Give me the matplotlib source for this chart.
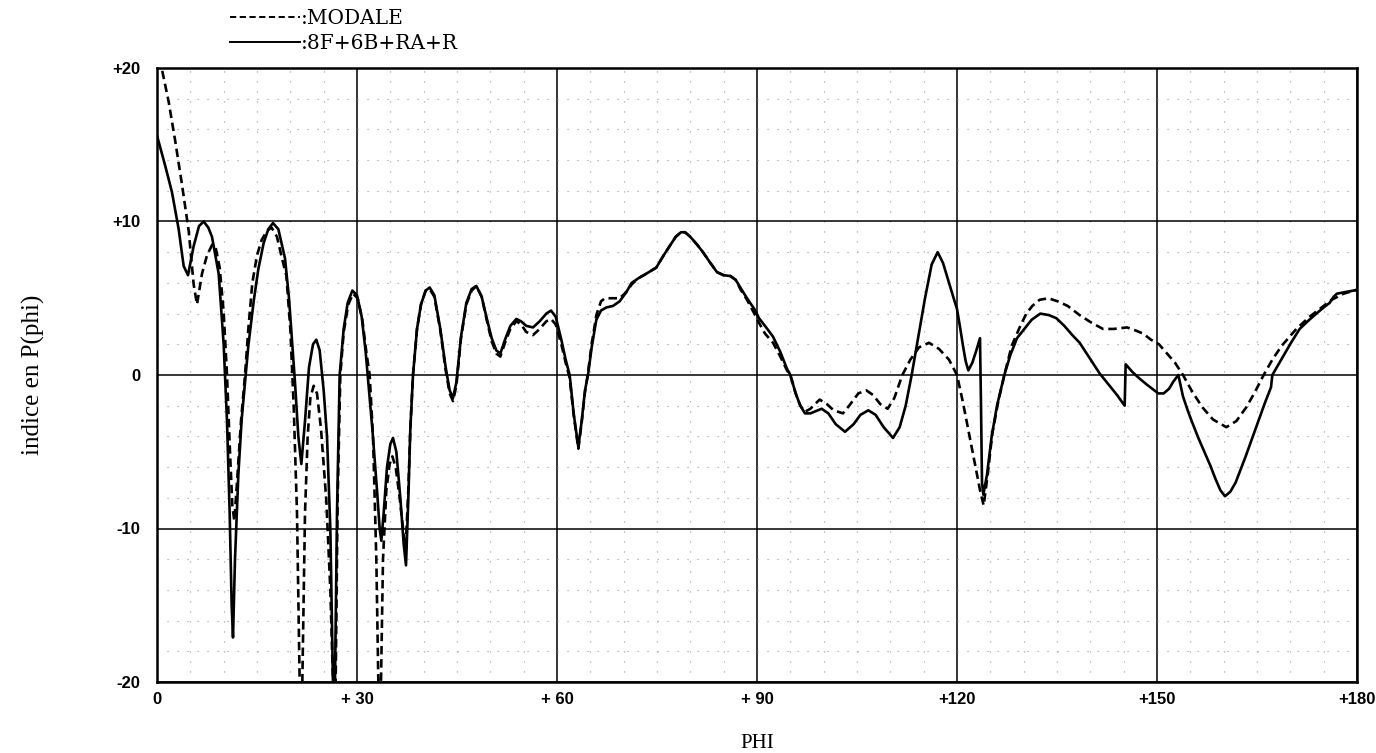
import matplotlib
matplotlib.use("Agg")
import matplotlib.pyplot as plt
from matplotlib.ticker import MultipleLocator, FixedLocator

# ---------------- data ----------------
x_ticks = [0, 30, 60, 90, 120, 150, 180]
x_ticklabels = ["0", "+ 30", "+ 60", "+ 90", "+120", "+150", "+180"]
y_ticks = [-20, -10, 0, 10, 20]
y_ticklabels = ["-20", "-10", "0", "+10", "+20"]

series_labels = [":MODALE", ":8F+6B+RA+R"]

# dashed curve : MODALE
modale_phi = [0, 0.7, 1.75, 2.75, 3.75, 4.75, 5.5, 6.0, 6.75, 7.5, 8.3, 8.8, 9.4, 10.0, 10.5,
              10.9, 11.3, 11.6, 12.0, 12.6, 13.2, 13.7, 14.3, 15.0, 15.7, 16.5, 17.2, 18.0,
              18.8, 19.4, 20.0, 20.5, 21.0, 21.4, 21.6, 21.8, 22.2, 22.6, 23.0, 23.5, 24.0,
              24.6, 25.4, 26.0, 26.4, 26.6, 26.8, 27.1, 27.5, 28.0, 28.7, 29.4, 30.1, 30.8,
              31.4, 31.9, 32.4, 32.9, 33.2, 33.4, 33.6, 33.9, 34.4, 34.9, 35.3, 35.8, 36.4,
              36.9, 37.3, 37.7, 38.0, 38.4, 39.0, 39.6, 40.3, 40.9, 41.6, 42.5, 43.3, 43.9,
              44.4, 44.9, 45.6, 46.4, 47.2, 47.9, 48.7, 49.4, 50.2, 50.9, 51.5, 52.2, 53.0,
              53.9, 54.6, 55.4, 56.4, 57.4, 58.4, 59.1, 59.8, 60.65, 61.3, 61.9, 62.5, 63.2,
              63.7, 64.2, 64.6, 65.2, 65.9, 66.6, 67.2, 68.4, 69.4, 70.4, 71.2, 72.2, 73.4,
              74.9, 76.0, 76.9, 77.8, 78.6, 79.2, 80.0, 81.0, 81.9, 83.0, 84.0, 85.0, 86.0,
              86.8, 87.5, 88.5, 89.6, 90.3, 91.2, 92.4, 93.5, 94.5, 95.0, 95.8, 96.5, 97.2,
              98.0, 99.4, 100.5, 101.5, 102.9, 104.0, 105.2, 106.4, 107.4, 108.5, 109.6,
              110.6, 111.8, 113.0, 114.3, 115.8, 117.3, 118.8, 120.0, 120.9, 121.8, 122.8,
              123.5, 124.0, 124.6, 125.3, 126.2, 127.1, 128.2, 129.5, 130.4, 131.3, 132.4,
              133.7, 135.1, 136.6, 138.4, 140.2, 141.9, 143.5, 145.5, 146.8, 147.9, 149.1,
              150.3, 151.5, 152.7, 153.9, 155.3, 156.8, 158.4, 160.4, 161.9, 163.4, 164.7,
              166.0, 167.3, 168.7, 170.9, 172.9, 175.0, 176.2, 178.0, 180.0]
modale_val = [21.5, 20.0, 17.8, 15.2, 12.4, 9.4, 5.9, 4.6, 6.6, 7.8, 8.5, 8.3, 7.0, 4.1, 0.0,
              -4.5, -8.5, -9.5, -7.0, -3.0, 0.0, 3.0, 6.0, 7.8, 8.8, 9.4, 9.6, 9.0,
              7.5, 6.5, 3.0, -2.0, -9.0, -20.0, -23.0, -20.0, -9.0, -4.0, -1.5, -0.7, -1.2,
              -3.5, -8.2, -14.0, -20.0, -24.0, -20.0, -8.0, 0.0, 2.8, 4.6, 5.3, 5.0, 3.6,
              1.5, 0.0, -4.0, -12.0, -20.0, -24.0, -20.0, -12.0, -7.5, -5.8, -5.3, -6.0, -8.0,
              -10.0, -11.2, -7.5, -3.5, 0.0, 3.0, 4.6, 5.5, 5.6, 5.1, 2.9, 0.3, -1.2,
              -1.7, -0.7, 2.4, 4.6, 5.5, 5.8, 5.1, 3.7, 2.2, 1.4, 1.2, 2.1, 3.0,
              3.5, 3.3, 2.8, 2.6, 3.0, 3.5, 3.65, 3.3, 2.0, 0.8, -0.2, -2.6, -4.8,
              -3.1, -1.1, 0.0, 2.0, 3.9, 4.8, 5.0, 5.0, 5.0, 5.4, 5.9, 6.3, 6.6,
              7.0, 7.8, 8.4, 9.0, 9.3, 9.3, 9.0, 8.5, 8.0, 7.3, 6.7, 6.5, 6.45,
              6.2, 5.6, 4.9, 4.0, 3.4, 2.7, 2.1, 1.2, 0.3, 0.0, -1.2, -2.0, -2.4,
              -2.2, -1.6, -1.9, -2.3, -2.5, -1.9, -1.2, -1.0, -1.3, -1.9, -2.2,
              -1.5, 0.0, 1.0, 1.8, 2.1, 1.7, 1.0, 0.0, -1.8, -3.8, -6.0,
              -7.6, -8.5, -6.5, -3.8, -1.7, 0.0, 1.9, 3.2, 4.0, 4.5, 4.9,
              5.0, 4.8, 4.5, 3.9, 3.4, 3.0, 3.0, 3.1, 2.9, 2.7, 2.3,
              2.0, 1.4, 0.8, 0.0, -1.1, -2.1, -2.9, -3.4, -3.0, -2.1, -1.1,
              0.0, 1.0, 1.9, 3.0, 3.8, 4.5, 4.9, 5.3, 5.55]

# solid curve : 8F+6B+RA+R
full_phi = [0, 1.25, 2.25, 3.25, 4.0, 4.65, 5.5, 6.3, 7.0, 7.7, 8.25, 9.25, 10.0, 10.5, 10.9,
            11.2, 11.4, 11.7, 12.2, 12.7, 13.7, 14.5, 15.2, 16.0, 16.7, 17.4, 18.2, 19.2,
            19.8, 20.3, 20.7, 21.2, 21.65, 22.2, 22.8, 23.4, 23.9, 24.4, 25.0, 25.5, 26.0,
            26.4, 26.55, 26.7, 27.0, 27.4, 28.0, 28.6, 29.3, 30.0, 30.7, 31.3, 31.6, 32.3,
            33.0, 33.4, 33.65, 34.0, 34.5, 35.0, 35.4, 35.9, 36.5, 37.0, 37.35, 37.7, 38.0,
            38.4, 39.0, 39.6, 40.3, 40.9, 41.6, 42.5, 43.3, 43.9, 44.4, 44.9, 45.6, 46.4,
            47.2, 47.9, 48.7, 49.4, 50.2, 50.9, 51.5, 52.2, 53.0, 53.9, 54.6, 55.4, 56.4,
            57.4, 58.4, 59.1, 59.8, 60.65, 61.3, 61.9, 62.5, 63.2, 63.7, 64.2, 64.65, 65.2,
            65.9, 66.6, 67.4, 68.4, 69.4, 70.4, 71.2, 72.2, 73.4, 74.9, 76.0, 76.9, 77.8,
            78.6, 79.2, 80.0, 81.0, 81.9, 83.0, 84.0, 85.0, 86.0, 86.8, 87.5, 88.5, 89.6,
            90.3, 91.2, 92.4, 93.5, 94.5, 95.0, 95.8, 96.5, 97.2, 98.0, 99.7, 100.7, 101.8,
            103.2, 104.5, 105.5, 106.7, 107.8, 109.0, 110.4, 111.4, 112.3, 113.2, 114.2,
            115.2, 116.2, 117.1, 117.9, 118.8, 119.5, 120.0, 120.5, 120.9, 121.3, 121.7,
            122.3, 122.9, 123.45, 123.6, 123.75, 123.95, 124.5, 125.2, 126.0, 127.1, 128.0,
            129.0, 130.1, 131.2, 132.5, 133.8, 134.9, 136.1, 137.3, 138.4, 139.9, 141.4,
            142.7, 144.0, 145.15, 145.3, 146.3, 147.3, 148.4, 149.3, 150.2, 151.0, 151.8,
            152.5, 153.2, 153.9, 154.6, 155.2, 156.2, 157.2, 158.0, 158.8, 159.5, 160.2,
            161.0, 161.8, 162.5, 163.3, 164.3, 165.3, 166.2, 167.1, 167.3, 168.1, 168.9,
            170.1, 171.4, 172.6, 173.9, 175.0, 175.9, 176.5, 177.0, 178.2, 179.5, 180.0]
full_val = [15.6, 13.6, 11.9, 9.5, 7.1, 6.5, 8.4, 9.7, 10.0, 9.6, 9.0, 6.6, 2.0, -3.0, -9.0,
            -15.0, -17.1, -12.0, -6.5, -2.9, 1.9, 4.8, 6.9, 8.6, 9.5, 9.9, 9.5, 7.6,
            5.0, 2.0, -0.5, -4.0, -5.8, -3.0, 0.5, 2.0, 2.3, 1.6, -1.0, -4.0, -10.0,
            -20.0, -24.0, -20.0, -9.0, 0.0, 3.0, 4.7, 5.5, 5.2, 3.8, 1.5, 0.0, -3.5,
            -7.5, -10.0, -10.8, -9.0, -6.0, -4.5, -4.1, -5.0, -8.0, -11.0, -12.4, -8.0, -3.5,
            0.0, 3.0, 4.6, 5.5, 5.7, 5.2, 3.0, 0.5, -1.0, -1.5, -0.5, 2.5, 4.7,
            5.6, 5.8, 5.1, 3.8, 2.4, 1.6, 1.4, 2.3, 3.2, 3.65, 3.5, 3.2, 3.1,
            3.5, 4.0, 4.2, 3.8, 2.3, 1.0, 0.0, -2.5, -4.7, -3.0, -1.0, 0.0, 1.8,
            3.6, 4.2, 4.4, 4.5, 4.8, 5.4, 6.0, 6.3, 6.6, 7.0, 7.8, 8.4, 9.0,
            9.3, 9.3, 9.0, 8.5, 8.0, 7.3, 6.7, 6.5, 6.45, 6.2, 5.7, 5.0, 4.3,
            3.7, 3.2, 2.5, 1.5, 0.4, 0.0, -1.2, -2.0, -2.5, -2.5, -2.2, -2.5, -3.2,
            -3.7, -3.2, -2.6, -2.3, -2.6, -3.4, -4.1, -3.4, -2.0, 0.0, 2.5,
            5.0, 7.2, 8.0, 7.3, 6.0, 5.0, 4.3, 3.0, 1.9, 0.9, 0.3,
            0.8, 1.6, 2.4, -2.0, -7.0, -7.8, -6.5, -4.0, -2.0, 0.0, 1.3,
            2.4, 3.0, 3.6, 4.0, 3.9, 3.7, 3.2, 2.6, 2.1, 1.1, 0.1,
            -0.6, -1.3, -2.0, 0.7, 0.2, -0.2, -0.6, -0.9, -1.2, -1.2, -0.9,
            -0.4, 0.0, -1.4, -2.3, -3.0, -4.1, -5.1, -5.9, -6.8, -7.5, -7.9,
            -7.6, -7.0, -6.2, -5.3, -4.1, -2.9, -1.8, -0.8, 0.0, 0.6, 1.2,
            2.1, 3.0, 3.5, 4.0, 4.4, 4.7, 5.1, 5.3, 5.4, 5.5, 5.55]

# ---------------- figure ----------------
W, H, DPI = 1376, 753, 100
fig = plt.figure(figsize=(W / DPI, H / DPI), dpi=DPI, facecolor="white")
ax = fig.add_axes([157 / W, 1 - 682 / H, 1200 / W, 614 / H])

ax.set_xlim(0, 180)
ax.set_ylim(-20, 20)

# grids
ax.xaxis.set_major_locator(FixedLocator(x_ticks))
ax.yaxis.set_major_locator(FixedLocator(y_ticks))
ax.xaxis.set_minor_locator(MultipleLocator(5))
ax.yaxis.set_minor_locator(MultipleLocator(2))
ax.grid(which="major", color="black", linewidth=1.1, linestyle="-")
ax.grid(which="minor", color="0.6", linewidth=0.8, linestyle=(0, (1, 8)))
ax.set_axisbelow(True)

l_mod, = ax.plot(modale_phi, modale_val, color="black", linewidth=1.9,
                 linestyle=(0, (3.2, 1.8)), label=series_labels[0])
l_full, = ax.plot(full_phi, full_val, color="black", linewidth=1.9,
                  linestyle="-", label=series_labels[1])

for s in ax.spines.values():
    s.set_linewidth(1.8)
    s.set_color("black")

ax.set_xticks(x_ticks)
ax.set_xticklabels(x_ticklabels)
ax.set_yticks(y_ticks)
ax.set_yticklabels(y_ticklabels)
ax.tick_params(which="both", length=0)
ax.tick_params(axis="x", pad=7)
ax.tick_params(axis="y", pad=12)
for lab in ax.get_xticklabels() + ax.get_yticklabels():
    lab.set_fontfamily("Liberation Sans")
    lab.set_fontweight("bold")
    lab.set_fontsize(12)

ax.set_ylabel("indice en P(phi)", fontfamily="Liberation Serif", fontsize=18)
ax.yaxis.set_label_coords(-0.093, 0.5)
ax.set_xlabel("PHI", fontfamily="Liberation Serif", fontsize=15)
ax.xaxis.set_label_coords(0.5, -0.084)

leg = ax.legend(handles=[l_mod, l_full], labels=series_labels,
                loc="upper left", bbox_to_anchor=(230 / W, 1 - 9 / H),
                bbox_transform=fig.transFigure, frameon=False,
                handlelength=3.5, handletextpad=0.0, borderpad=0.0,
                borderaxespad=0.0, labelspacing=0.3,
                prop={"family": "DejaVu Serif", "size": 14.5})
for h in leg.legend_handles:
    h.set_linewidth(1.4)

fig.savefig("out.png", dpi=DPI, facecolor="white")
